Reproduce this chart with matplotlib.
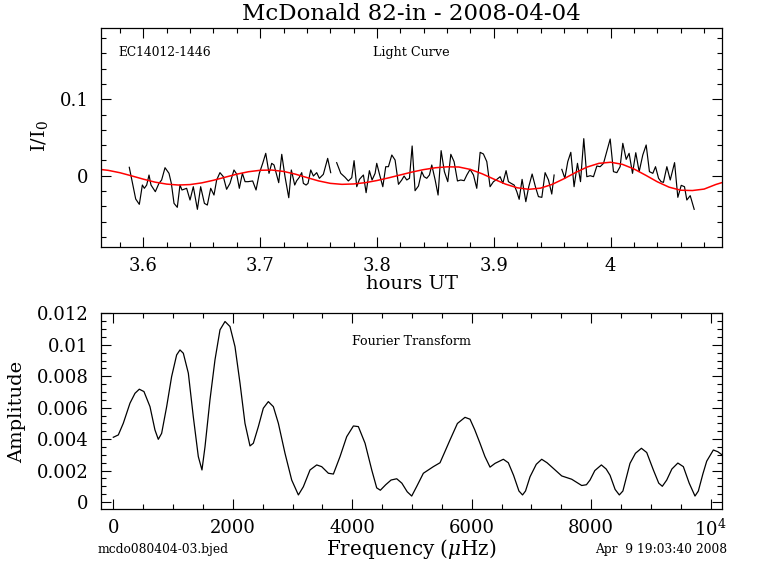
import matplotlib
matplotlib.use('Agg')
import matplotlib.pyplot as plt
import numpy as np
from matplotlib.ticker import MultipleLocator, FuncFormatter, FixedLocator, FixedFormatter

nan = np.nan

# ---------------- Light curve (black) ----------------
lc_hours = [3.5880, 3.5935, 3.5966, 3.5992, 3.6009, 3.6029, 3.6049, 3.6066, 3.6103, 3.6134,
            3.6157, 3.6186, 3.6220, 3.6240, 3.6263, 3.6291, 3.6314, 3.6331, 3.6371, 3.6400,
            3.6428, 3.6463, 3.6491, 3.6523, 3.6548, 3.6577, 3.6605, 3.6628, 3.6656, 3.6685,
            3.6713, 3.6742, 3.6776, 3.6799, 3.6822, 3.6848, 3.6871, 3.6896, 3.6936, 3.6965,
            3.6993, 3.7022, 3.7048, 3.7076, 3.7099, 3.7119, 3.7159, 3.7185, 3.7213, 3.7245,
            3.7267, 3.7296, 3.7313, 3.7333, 3.7356, 3.7370, 3.7393, 3.7410, 3.7433, 3.7456,
            3.7484, 3.7507, 3.7541, 3.7578, 3.7604, 3.7630,
            3.7655, 3.7690, 3.7727, 3.7755, 3.7784, 3.7804, 3.7827, 3.7850, 3.7870, 3.7884,
            3.7907, 3.7935, 3.7958, 3.7984, 3.7998, 3.8021, 3.8050, 3.8075, 3.8098, 3.8127,
            3.8155, 3.8184, 3.8212, 3.8232, 3.8255, 3.8278, 3.8301, 3.8326, 3.8355, 3.8383,
            3.8403, 3.8426, 3.8449, 3.8469, 3.8498, 3.8523, 3.8549, 3.8577, 3.8606, 3.8632,
            3.8660, 3.8689, 3.8717, 3.8746, 3.8769, 3.8797, 3.8826, 3.8854, 3.8883, 3.8911,
            3.8940, 3.8968, 3.8997, 3.9026, 3.9054, 3.9077, 3.9105, 3.9125, 3.9148, 3.9174,
            3.9197, 3.9217, 3.9242, 3.9274, 3.9299, 3.9328, 3.9356, 3.9382, 3.9411, 3.9439,
            3.9468, 3.9496, 3.9516, 3.9550,
            3.9582, 3.9608, 3.9633, 3.9659, 3.9687, 3.9716, 3.9742, 3.9770, 3.9796, 3.9825,
            3.9853, 3.9882, 3.9910, 3.9939, 3.9996, 4.0024, 4.0053, 4.0081, 4.0104, 4.0133,
            4.0158, 4.0187, 4.0215, 4.0244, 4.0275, 4.0304, 4.0332, 4.0361, 4.0384, 4.0410,
            4.0432, 4.0452, 4.0481, 4.0510, 4.0547, 4.0575, 4.0604, 4.0632, 4.0652, 4.0681,
            4.0715]
lc_flux = [0.0110, -0.0305, -0.0375, -0.0122, -0.0165, -0.0122, 0.0009, -0.0122, -0.0209, -0.0100,
           -0.0056, 0.0105, 0.0031, -0.0100, -0.0362, -0.0414, -0.0122, -0.0187, -0.0165, -0.0318,
           -0.0144, -0.0440, -0.0144, -0.0362, -0.0384, -0.0165, -0.0253, -0.0056, 0.0040, -0.0013,
           -0.0178, -0.0100, 0.0075, 0.0022, -0.0165, 0.0031, -0.0078, -0.0078, -0.0069, -0.0187,
           0.0031, 0.0162, 0.0293, 0.0031, 0.0162, 0.0140, -0.0091, 0.0280, -0.0013, -0.0288,
           0.0075, -0.0122, -0.0065, -0.0026, 0.0040, -0.0100, -0.0122, -0.0100, 0.0075, -0.0004,
           0.0040, -0.0034, 0.0018, 0.0227, 0.0040, nan,
           0.0171, 0.0031, -0.0021, -0.0069, -0.0026, 0.0197, -0.0144, -0.0048, -0.0013, 0.0009,
           -0.0222, 0.0066, -0.0056, 0.0031, 0.0162, 0.0022, -0.0144, 0.0118, 0.0118, 0.0271,
           0.0205, -0.0113, -0.0056, -0.0004, -0.0056, -0.0034, 0.0389, -0.0196, -0.0135, 0.0053,
           -0.0013, -0.0034, 0.0009, 0.0140, -0.0056, -0.0253, 0.0328, 0.0053, -0.0078, 0.0280,
           0.0184, -0.0069, -0.0056, -0.0065, 0.0009, 0.0083, 0.0009, -0.0165, 0.0306, 0.0284,
           0.0184, -0.0144, -0.0078, -0.0048, -0.0013, -0.0100, 0.0066, -0.0078, -0.0100, -0.0122,
           -0.0209, -0.0309, -0.0048, -0.0340, -0.0144, 0.0022, -0.0144, -0.0274, -0.0283, 0.0040,
           -0.0056, -0.0240, 0.0009, nan,
           0.0083, -0.0034, 0.0184, 0.0306, -0.0144, 0.0162, -0.0078, 0.0485, -0.0013, 0.0000,
           -0.0013, 0.0127, 0.0118, 0.0162, 0.0480, 0.0053, 0.0040, 0.0118, 0.0424, 0.0214,
           0.0293, 0.0031, 0.0301, 0.0053, 0.0271, 0.0402, 0.0053, 0.0031, 0.0118, -0.0034,
           -0.0078, -0.0087, 0.0118, -0.0056, 0.0171, -0.0283, -0.0126, -0.0144, -0.0318, -0.0261,
           -0.0440]

# ---------------- Fit (red) ----------------
fit_hours = [3.56, 3.57, 3.58, 3.59, 3.60, 3.61, 3.62, 3.63, 3.64, 3.65,
             3.66, 3.67, 3.68, 3.69, 3.70, 3.71, 3.72, 3.73, 3.74, 3.75,
             3.76, 3.77, 3.78, 3.79, 3.80, 3.81, 3.82, 3.83, 3.84, 3.85,
             3.86, 3.87, 3.88, 3.89, 3.90, 3.91, 3.92, 3.93, 3.94, 3.95,
             3.96, 3.97, 3.98, 3.99, 4.00, 4.01, 4.02, 4.03, 4.04, 4.05,
             4.06, 4.07, 4.08, 4.09, 4.10]
fit_flux = [0.0088, 0.0070, 0.0039, -0.0002, -0.0045, -0.0084, -0.0110, -0.0122, -0.0116, -0.0094,
            -0.0060, -0.0020, 0.0020, 0.0052, 0.0071, 0.0074, 0.0056, 0.0021, -0.0024, -0.0068,
            -0.0100, -0.0113, -0.0108, -0.0091, -0.0063, -0.0028, 0.0010, 0.0048, 0.0080, 0.0104,
            0.0116, 0.0114, 0.0082, 0.0025, -0.0044, -0.0110, -0.0158, -0.0178, -0.0163, -0.0113,
            -0.0040, 0.0042, 0.0114, 0.0162, 0.0176, 0.0149, 0.0088, 0.0006, -0.0080, -0.0150,
            -0.0190, -0.0194, -0.0175, -0.0115, -0.0068]

# ---------------- Fourier transform ----------------
ft_freq = [0, 84, 167, 279, 363, 435, 513, 614, 697, 753,
           809, 893, 976, 1060, 1116, 1172, 1256, 1339, 1423, 1484,
           1535, 1618, 1702, 1786, 1870, 1953, 2037, 2121, 2204, 2288,
           2344, 2428, 2511, 2595, 2679, 2763, 2874, 2986, 3098, 3181,
           3293, 3405, 3488, 3600, 3684, 3795, 3907, 4019, 4102, 4214,
           4326, 4409, 4470, 4560, 4650, 4744, 4830, 4920, 4995, 5080,
           5190, 5357, 5469, 5550, 5636, 5760, 5887, 5971, 6050, 6138,
           6220, 6306, 6390, 6529, 6612, 6700, 6790, 6850, 6900, 6976,
           7080, 7171, 7260, 7366, 7506, 7673, 7841, 7920, 7980, 8060,
           8170, 8250, 8315, 8400, 8470, 8530, 8649, 8740, 8840, 8929,
           9040, 9130, 9190, 9264, 9350, 9450, 9542, 9640, 9737, 9793,
           9870, 9933, 10044, 10120, 10190]
ft_amp = [0.00412, 0.00427, 0.00501, 0.00629, 0.00692, 0.00718, 0.00703, 0.00607, 0.00459, 0.00399,
          0.00437, 0.00607, 0.00798, 0.00936, 0.00968, 0.00947, 0.00820, 0.00543, 0.00289, 0.00204,
          0.00352, 0.00650, 0.00905, 0.01096, 0.01149, 0.01117, 0.00989, 0.00756, 0.00501, 0.00357,
          0.00374, 0.00480, 0.00597, 0.00639, 0.00607, 0.00501, 0.00310, 0.00140, 0.00045, 0.00097,
          0.00204, 0.00236, 0.00225, 0.00183, 0.00178, 0.00289, 0.00416, 0.00484, 0.00480, 0.00374,
          0.00204, 0.00090, 0.00075, 0.00110, 0.00140, 0.00148, 0.00120, 0.00065, 0.00038, 0.00100,
          0.00183, 0.00225, 0.00250, 0.00320, 0.00395, 0.00500, 0.00539, 0.00527, 0.00460, 0.00374,
          0.00290, 0.00222, 0.00246, 0.00272, 0.00250, 0.00170, 0.00070, 0.00045, 0.00070, 0.00161,
          0.00240, 0.00272, 0.00250, 0.00214, 0.00166, 0.00145, 0.00105, 0.00110, 0.00140, 0.00200,
          0.00236, 0.00210, 0.00170, 0.00080, 0.00045, 0.00070, 0.00246, 0.00310, 0.00342, 0.00315,
          0.00204, 0.00120, 0.00100, 0.00140, 0.00210, 0.00248, 0.00225, 0.00120, 0.00038, 0.00070,
          0.00180, 0.00260, 0.00331, 0.00320, 0.00300]

freq_ticks = [0, 2000, 4000, 6000, 8000, 10000]
freq_labels = ['0', '2000', '4000', '6000', '8000', '10$^4$']

plt.rcParams['font.family'] = ['DejaVu Serif']
plt.rcParams['mathtext.fontset'] = 'dejavuserif'

W, H = 768, 574
fig = plt.figure(figsize=(W / 100, H / 100), dpi=100)
ax1 = fig.add_axes([101 / W, 1 - 247 / H, 621 / W, 219 / H])
ax2 = fig.add_axes([101 / W, 1 - 509 / H, 621 / W, 196.3 / H])

gfmt = FuncFormatter(lambda v, p: f'{round(v, 6):g}')

for ax in (ax1, ax2):
    ax.tick_params(which='both', direction='in', top=True, right=True, color='black')
    ax.tick_params(which='major', length=7.2, width=0.8, labelsize=13)
    ax.tick_params(which='minor', length=3.6, width=0.8)
    ax.tick_params(axis='x', pad=7)
    ax.tick_params(axis='y', pad=9)
    for s in ax.spines.values():
        s.set_linewidth(0.9)

# top panel
ax1.plot(lc_hours, lc_flux, color='black', lw=0.85)
ax1.plot(fit_hours, fit_flux, color='#ff0000', lw=1.1)
ax1.set_xlim(3.5638, 4.0953)
ax1.set_ylim(-0.0933, 0.1933)
ax1.xaxis.set_major_locator(MultipleLocator(0.1))
ax1.xaxis.set_minor_locator(MultipleLocator(0.02))
ax1.yaxis.set_major_locator(MultipleLocator(0.1))
ax1.yaxis.set_minor_locator(MultipleLocator(0.02))
ax1.xaxis.set_major_formatter(gfmt)
ax1.yaxis.set_major_formatter(gfmt)
ax1.text(0.0274, 0.886, 'EC14012-1446', transform=ax1.transAxes, fontsize=8.8,
         ha='left', va='center')
ax1.text(0.5, 0.886, 'Light Curve', transform=ax1.transAxes, fontsize=9.2,
         ha='center', va='center')

# bottom panel
ax2.plot(ft_freq, ft_amp, color='black', lw=0.9)
ax2.set_xlim(-206, 10189)
ax2.set_ylim(-0.000445, 0.01205)
ax2.xaxis.set_major_locator(FixedLocator(freq_ticks))
ax2.xaxis.set_major_formatter(FixedFormatter(freq_labels))
ax2.xaxis.set_minor_locator(MultipleLocator(500))
ax2.yaxis.set_major_locator(MultipleLocator(0.002))
ax2.yaxis.set_minor_locator(MultipleLocator(0.0005))
ax2.yaxis.set_major_formatter(gfmt)
ax2.text(0.5, 0.852, 'Fourier Transform', transform=ax2.transAxes, fontsize=9.2,
         ha='center', va='center')

# figure texts
fig.text(411.5 / W, 1 - 14 / H, 'McDonald 82-in - 2008-04-04', fontsize=16.5,
         ha='center', va='center')
fig.text(39 / W, 1 - 136 / H, 'I/I$_0$', fontsize=14, rotation=90,
         ha='center', va='center')
fig.text(411.5 / W, 1 - 284 / H, 'hours UT', fontsize=14, ha='center', va='center')
fig.text(17 / W, 1 - 412 / H, 'Amplitude', fontsize=14, rotation=90,
         ha='center', va='center')
fig.text(411.5 / W, 1 - 549 / H, 'Frequency ($\\mu$Hz)', fontsize=14.3,
         ha='center', va='center')
fig.text(98 / W, 1 - 549 / H, 'mcdo080404-03.bjed', fontsize=8.8,
         ha='left', va='center')
fig.text(727 / W, 1 - 549 / H, 'Apr  9 19:03:40 2008', fontsize=8.8,
         ha='right', va='center')

fig.savefig('out.png', dpi=100)
